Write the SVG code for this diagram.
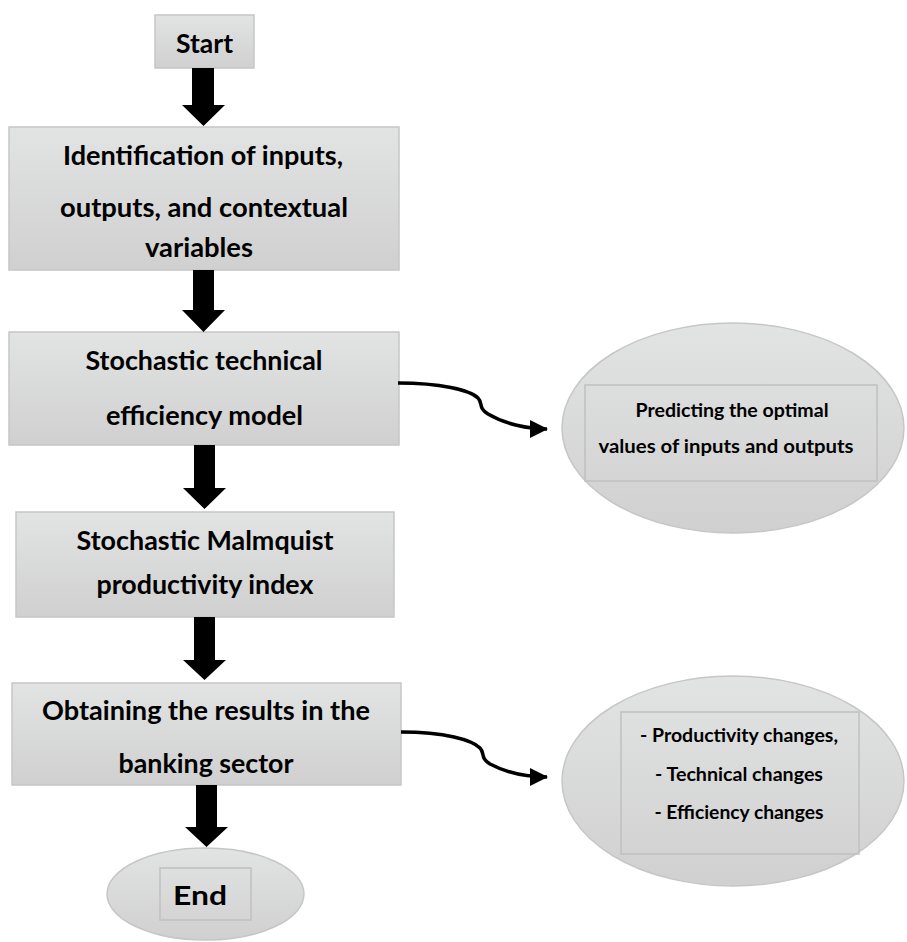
<svg xmlns="http://www.w3.org/2000/svg" width="907" height="942" viewBox="0 0 907 942">
<defs>
<linearGradient id="g" x1="0" y1="0" x2="0" y2="1">
<stop offset="0" stop-color="#e2e3e3"/>
<stop offset="1" stop-color="#d0d0d0"/>
</linearGradient>
<marker id="ah" viewBox="0 0 18 18" refX="17" refY="9" markerWidth="18" markerHeight="18" markerUnits="userSpaceOnUse" orient="auto">
<path d="M0,0 L18,9 L0,18 Z" fill="#000"/>
</marker>
</defs>
<style>
.box{fill:url(#g);stroke:#c6c6c6;stroke-width:1.5}
.inner{fill:none;stroke:#c0c0c0;stroke-width:1.5}
.big{font-family:Lato,"Liberation Sans",sans-serif;font-weight:bold;font-size:26px;fill:#000;text-anchor:middle}
.small{font-family:Lato,"Liberation Sans",sans-serif;font-weight:bold;font-size:19px;fill:#000;text-anchor:middle}
.blk{fill:#000}
.curve{fill:none;stroke:#000;stroke-width:3.5}
</style>
<g id="start">
<rect class="box" x="155" y="15" width="99" height="53"/>
<text class="big" x="204.5" y="53" textLength="57" lengthAdjust="spacingAndGlyphs">Start</text>
</g>
<g id="identification">
<rect class="box" x="9" y="127" width="390" height="143"/>
<text class="big" x="203" y="165" textLength="280" lengthAdjust="spacingAndGlyphs">Identification of inputs,</text>
<text class="big" x="204" y="217" textLength="288" lengthAdjust="spacingAndGlyphs">outputs, and contextual</text>
<text class="big" x="199" y="257" textLength="108" lengthAdjust="spacingAndGlyphs">variables</text>
</g>
<g id="technical">
<rect class="box" x="9" y="332" width="390" height="113"/>
<text class="big" x="204" y="370" textLength="237" lengthAdjust="spacingAndGlyphs">Stochastic technical</text>
<text class="big" x="204.5" y="425" textLength="197" lengthAdjust="spacingAndGlyphs">efficiency model</text>
</g>
<g id="malmquist">
<rect class="box" x="16" y="512" width="378" height="105"/>
<text class="big" x="205" y="550" textLength="257" lengthAdjust="spacingAndGlyphs">Stochastic Malmquist</text>
<text class="big" x="205" y="594" textLength="217" lengthAdjust="spacingAndGlyphs">productivity index</text>
</g>
<g id="results">
<rect class="box" x="12" y="683" width="389" height="102"/>
<text class="big" x="206" y="720" textLength="328" lengthAdjust="spacingAndGlyphs">Obtaining the results in the</text>
<text class="big" x="206" y="773" textLength="175" lengthAdjust="spacingAndGlyphs">banking sector</text>
</g>
<g id="end">
<ellipse class="box" cx="205.5" cy="894" rx="98.5" ry="46"/>
<rect class="inner" x="160" y="868" width="91" height="52"/>
<text class="big" x="200" y="905" textLength="54" lengthAdjust="spacingAndGlyphs">End</text>
</g>
<g id="predicting">
<ellipse class="box" cx="733" cy="428" rx="171" ry="105"/>
<rect class="inner" x="585" y="385" width="292" height="96"/>
<text class="small" x="732" y="417" textLength="193" lengthAdjust="spacingAndGlyphs">Predicting the optimal</text>
<text class="small" x="726" y="453" textLength="255" lengthAdjust="spacingAndGlyphs">values of inputs and outputs</text>
</g>
<g id="changes">
<ellipse class="box" cx="733" cy="781" rx="171" ry="105"/>
<rect class="inner" x="621" y="712" width="238" height="142"/>
<text class="small" x="739" y="742" textLength="198" lengthAdjust="spacingAndGlyphs">- Productivity changes,</text>
<text class="small" x="739" y="781" textLength="168" lengthAdjust="spacingAndGlyphs">- Technical changes</text>
<text class="small" x="739" y="819" textLength="169" lengthAdjust="spacingAndGlyphs">- Efficiency changes</text>
</g>
<g id="connectors">
<polygon class="blk" points="192,68 214,68 214,105 225,105 203.5,126 182,105 192,105"/>
<polygon class="blk" points="193,270 214,270 214,310 225,310 203.5,332 182,310 193,310"/>
<polygon class="blk" points="194,445 215,445 215,488 226,488 204.5,509 183,488 194,488"/>
<polygon class="blk" points="194,617 215,617 215,660 226,660 204.5,680 183,660 194,660"/>
<polygon class="blk" points="196,785 217,785 217,827 228,827 206.5,847 185,827 196,827"/>
<path class="curve" d="M398,383 C440,383 470,390 478,398 C483,403 478,408 488,414 C505,424 528,429 547,429" marker-end="url(#ah)"/>
<path class="curve" d="M401,732 C445,732 472,740 480,748 C485,753 480,758 490,764 C507,773 528,777 547,777" marker-end="url(#ah)"/>
</g>
</svg>
